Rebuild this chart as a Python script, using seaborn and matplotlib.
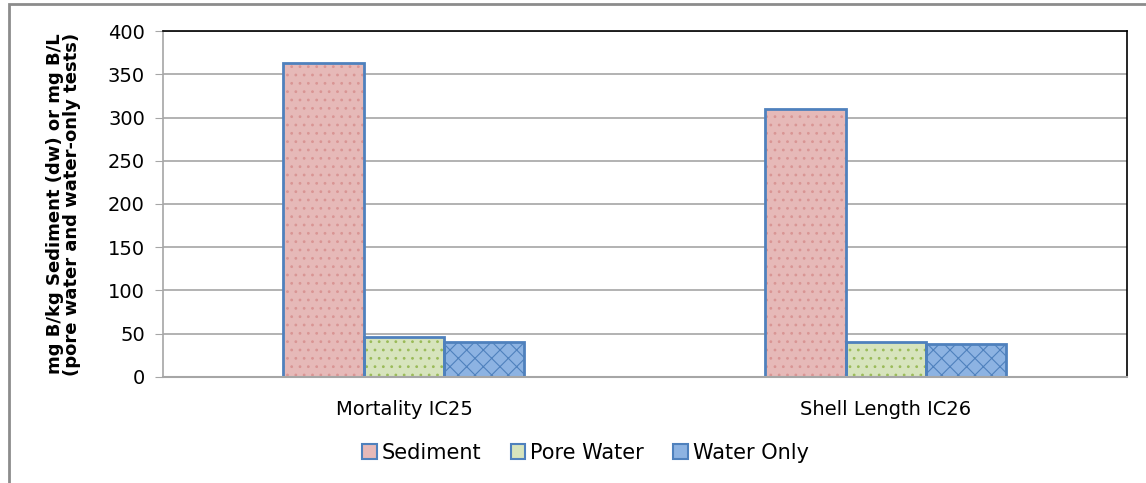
import pandas as pd
import matplotlib.pyplot as plt
import seaborn as sns
from matplotlib.patches import Patch, Rectangle

# ============================================================
# DATA
# ============================================================

categories = ["Mortality IC25", "Shell Length IC26"]
series = ["Sediment", "Pore Water", "Water Only"]
sediment = [363, 310]
pore_water = [46, 40]
water_only = [40, 38]

fill_colors = ["#E6B9B8", "#D7E4BD", "#8DB3E2"]
hatch_colors = ["#D99594", "#9BBB59", "#4F81BD"]
hatches = ["..", "..", "xx"]
edge_color = "#4F81BD"

df = pd.DataFrame({
    "category": categories * 3,
    "series": [s for s in series for _ in categories],
    "value": sediment + pore_water + water_only,
})

# ============================================================
# PLOT
# ============================================================

sns.set_style("white")
plt.rcParams["font.family"] = ["DejaVu Sans"]
plt.rcParams["hatch.linewidth"] = 0.8
plt.rcParams["text.color"] = "black"
plt.rcParams["axes.labelcolor"] = "black"
plt.rcParams["xtick.labelcolor"] = "black"
plt.rcParams["ytick.labelcolor"] = "black"

fig = plt.figure(figsize=(11.46, 4.83), dpi=100)
ax = fig.add_axes([0.1422, 0.2195, 0.8412, 0.7163])

# filled + hatched bars
sns.barplot(data=df, x="category", y="value", hue="series", order=categories,
            hue_order=series, palette=fill_colors, width=0.5, ax=ax,
            legend=False, linewidth=0, saturation=1)
for i, s in enumerate(series):
    for p in ax.containers[i]:
        p.set_hatch(hatches[i])
        p.set_edgecolor(hatch_colors[i])
        p.set_linewidth(0)

# blue outlines on top
sns.barplot(data=df, x="category", y="value", hue="series", order=categories,
            hue_order=series, palette=[edge_color] * 3, width=0.5, ax=ax,
            legend=False, fill=False, linewidth=2, saturation=1)

ax.set_ylim(0, 400)
ax.set_yticks(range(0, 401, 50))
ax.set_xlim(-0.5, 1.5)
ax.yaxis.grid(True, color="#A6A6A6", linewidth=1.2)
ax.set_axisbelow(True)

ax.spines["left"].set_color("#A6A6A6")
ax.spines["bottom"].set_color("#A6A6A6")
ax.spines["left"].set_linewidth(1.2)
ax.spines["bottom"].set_linewidth(1.5)
ax.spines["top"].set_color("black")
ax.spines["right"].set_color("black")
ax.spines["top"].set_linewidth(1.2)
ax.spines["right"].set_linewidth(1.2)

ax.tick_params(axis="y", left=True, length=6, color="#A6A6A6", labelsize=14, pad=7,
               labelcolor="black")
ax.tick_params(axis="x", bottom=False, labelsize=14, pad=13, labelcolor="black")
ax.set_xlabel("")
ax.set_ylabel("mg B/kg Sediment (dw) or mg B/L\n(pore water and water-only tests)",
              fontsize=13, fontweight="bold", labelpad=19, linespacing=0.95,
              color="black")

handles = [Patch(facecolor=fill_colors[i], edgecolor=edge_color, linewidth=1.5)
           for i in range(3)]
fig.legend(handles, series, loc="center", bbox_to_anchor=(0.511, 0.062), ncol=3,
           frameon=False, fontsize=15, handlelength=0.7, handleheight=0.7,
           handletextpad=0.25, columnspacing=1.4, labelcolor="black")

# outer chart border (cropped on the right and bottom)
fig.patches.append(Rectangle((0.0075, -0.1), 1.1, 1.0917, transform=fig.transFigure,
                             fill=False, edgecolor="#8C8C8C", linewidth=2))

plt.savefig("out.png", dpi=100)
plt.close()
